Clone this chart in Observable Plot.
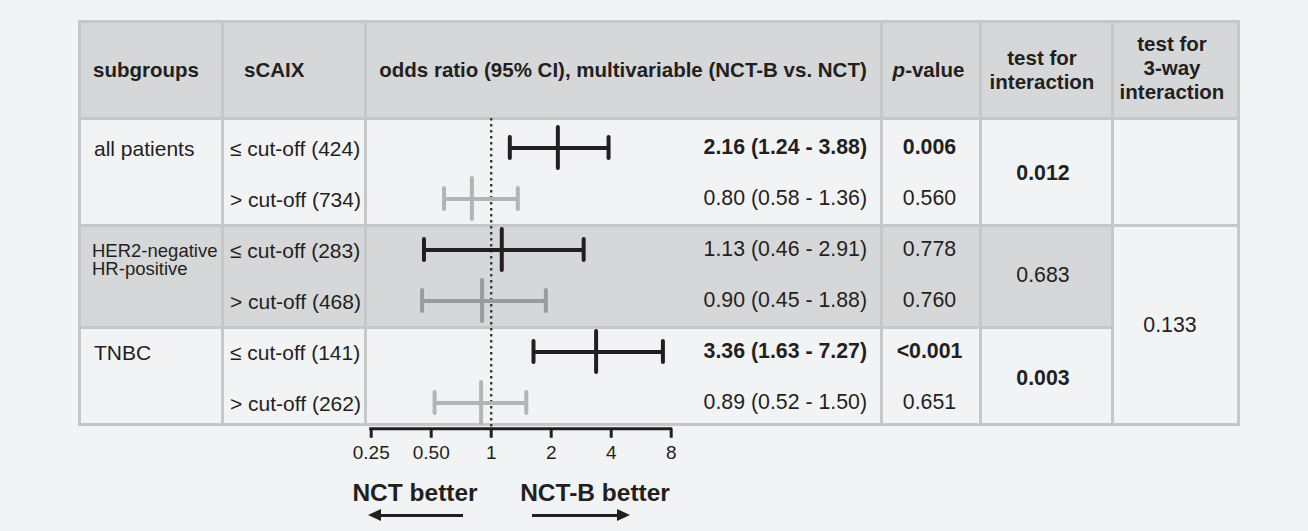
<!DOCTYPE html>
<html>
<head>
<meta charset="utf-8">
<script src="https://cdn.jsdelivr.net/npm/d3@7"></script>
<script src="https://cdn.jsdelivr.net/npm/@observablehq/plot@0.6"></script>
<style>
  html, body { margin: 0; padding: 0; background: #f2f3f5; }
  body { width: 1308px; height: 531px; position: relative; overflow: hidden;
         font-family: "Liberation Sans", Arial, Helvetica, sans-serif; color: #231f20; }
  .cell { position: absolute; box-sizing: border-box; }
  .t { position: absolute; white-space: nowrap; line-height: 1; }
  #plotwrap { position: absolute; }
  #plotwrap svg { background: transparent !important; overflow: visible; max-width: none !important; }
</style>
</head>
<body>
<script>
// ---------------- data ----------------
const subgroupLabels = [["all patients"], ["HER2-negative", "HR-positive"], ["TNBC"]];
const rowLabels = ["\u2264 cut-off (424)", "> cut-off (734)", "\u2264 cut-off (283)", "> cut-off (468)", "\u2264 cut-off (141)", "> cut-off (262)"];
const rowGroup = [0, 0, 1, 1, 2, 2];
const rowIsLow = [true, false, true, false, true, false];
const orEst = [2.16, 0.80, 1.13, 0.90, 3.36, 0.89];
const orLow = [1.24, 0.58, 0.46, 0.45, 1.63, 0.52];
const orHigh = [3.88, 1.36, 2.91, 1.88, 7.27, 1.50];
const pValues = ["0.006", "0.560", "0.778", "0.760", "<0.001", "0.651"];
const pSignificant = [true, false, false, false, true, false];
const interactionP = ["0.012", "0.683", "0.003"];
const interactionSig = [true, false, true];
const threeWayP = "0.133";
const xTicks = [0.25, 0.5, 1, 2, 4, 8];
const xTickLabels = ["0.25", "0.50", "1", "2", "4", "8"];
const favourLabels = ["NCT better", "NCT-B better"];

// ---------------- layout ----------------
const C = { bg: "#f2f3f5", dark: "#d6d7d9", grid: "#c6c7c9", ink: "#231f20", gray: "#b3b4b6", grayDark: "#9a9b9d" };
const colX = [79, 222, 365, 881, 980, 1112, 1238];
const tableTop = 21, headerBottom = 118;
const groupBounds = [118, 225, 327, 424];
const bandTop = 122.15, bandH = 51.1;
const rowCenter = i => bandTop + bandH * (i + 0.5);
const gw = 3; // grid line width

function div(cls, css, html) {
  const d = document.createElement("div");
  d.className = cls;
  Object.assign(d.style, css);
  if (html != null) d.innerHTML = html;
  document.body.appendChild(d);
  return d;
}
function cell(x0, y0, x1, y1, fill) {
  div("cell", { left: (x0 + gw / 2) + "px", top: (y0 + gw / 2) + "px",
    width: (x1 - x0 - gw) + "px", height: (y1 - y0 - gw) + "px", background: fill });
}
function txt(x, y, html, { anchor = "start", size = 21, bold = false } = {}) {
  const tx = anchor === "middle" ? "-50%" : anchor === "end" ? "-100%" : "0";
  div("t", { left: x + "px", top: y + "px", fontSize: size + "px", fontWeight: bold ? "bold" : "normal",
    transform: `translate(${tx}, -50%)` }, html);
}

// grid background (border colour)
div("cell", { left: (colX[0] - gw / 2) + "px", top: (tableTop - gw / 2) + "px",
  width: (colX[6] - colX[0] + gw) + "px", height: (groupBounds[3] - tableTop + gw) + "px", background: C.grid });

// header cells
for (let c = 0; c < 6; c++) cell(colX[c], tableTop, colX[c + 1], headerBottom, C.dark);
// body cells
for (let g = 0; g < 3; g++)
  for (let c = 0; c < 5; c++)
    cell(colX[c], groupBounds[g], colX[c + 1], groupBounds[g + 1], g === 1 ? C.dark : C.bg);
cell(colX[5], groupBounds[0], colX[6], groupBounds[1], C.bg);
cell(colX[5], groupBounds[1], colX[6], groupBounds[3], C.bg);

// header text
const hy = 70, hs = 20.5;
txt(93, hy, "subgroups", { size: hs, bold: true });
txt(244, hy, "sCAIX", { size: hs, bold: true });
txt((colX[2] + colX[3]) / 2, hy, "odds ratio (95% CI), multivariable (NCT-B vs. NCT)", { anchor: "middle", size: hs, bold: true });
txt((colX[3] + colX[4]) / 2 - 2, hy, "<i>p</i>-value", { anchor: "middle", size: hs, bold: true });
div("t", { left: ((colX[4] + colX[5]) / 2 - 4) + "px", top: hy + "px", fontSize: hs + "px", fontWeight: "bold",
  lineHeight: "24px", textAlign: "center", transform: "translate(-50%, -50%)" }, "test for<br>interaction");
div("t", { left: ((colX[5] + colX[6]) / 2 - 3) + "px", top: (hy - 2) + "px", fontSize: hs + "px", fontWeight: "bold",
  lineHeight: "24px", textAlign: "center", transform: "translate(-50%, -50%)" }, "test for<br>3-way<br>interaction");

// subgroup labels
subgroupLabels.forEach((lines, g) => {
  const firstRow = rowGroup.indexOf(g);
  if (lines.length === 1) {
    txt(94, rowCenter(firstRow), lines[0], { size: 21 });
  } else {
    div("t", { left: "92px", top: (rowCenter(firstRow) - 8) + "px", fontSize: "18.5px", lineHeight: "18.5px" },
      lines.join("<br>"));
  }
});

// per-row text
rowLabels.forEach((lab, i) => {
  const y = rowCenter(i);
  txt(230, y, lab, { size: 21 });
  const orText = `${orEst[i].toFixed(2)} (${orLow[i].toFixed(2)} - ${orHigh[i].toFixed(2)})`;
  txt(867, y, orText, { anchor: "end", size: 21.3, bold: pSignificant[i] });
  txt((colX[3] + colX[4]) / 2 - 1, y, pValues[i], { anchor: "middle", size: 21.3, bold: pSignificant[i] });
});
// interaction tests
interactionP.forEach((p, g) => {
  const idx = rowGroup.map((gg, i) => gg === g ? i : -1).filter(i => i >= 0);
  const y = d3.mean(idx, rowCenter) + 1;
  txt((colX[4] + colX[5]) / 2 - 3, y, p, { anchor: "middle", size: 21.3, bold: interactionSig[g] });
});
txt((colX[5] + colX[6]) / 2 - 5, (groupBounds[1] + groupBounds[3]) / 2 + 1, threeWayP, { anchor: "middle", size: 21.3 });

// ---------------- forest plot (Observable Plot) ----------------
const rows = orEst.map((e, i) => ({
  id: i, est: e, lo: orLow[i], hi: orHigh[i],
  color: rowIsLow[i] ? C.ink : (rowGroup[i] === 1 ? C.grayDark : C.gray)
}));
const plotX0 = 366, plotY0 = 118, plotW = 515, plotH = 413;
const xPix0 = 370.7, xPix1 = 670.7;
const frameBottom = bandTop + rows.length * bandH;
const tickLabel = d => {
  const k = xTicks.findIndex(t => Math.abs(Math.log2(t) - Math.log2(+d)) < 1e-6);
  return k >= 0 ? xTickLabels[k] : "";
};

const axisLine = (index, scales, values, dims) => {
  const y = dims.height - dims.marginBottom;
  const g = d3.create("svg:g");
  g.append("line")
    .attr("x1", scales.x(xTicks[0]) - 1.5).attr("x2", scales.x(xTicks[xTicks.length - 1]) + 1.5)
    .attr("y1", y).attr("y2", y).attr("stroke", C.ink).attr("stroke-width", 3);
  return g.node();
};

const capStyle = { stroke: "color", strokeWidth: 4, strokeLinecap: "round" };
const chart = Plot.plot({
  width: plotW, height: plotH,
  marginLeft: xPix0 - plotX0, marginRight: plotX0 + plotW - xPix1,
  marginTop: 0, marginBottom: plotY0 + plotH - frameBottom,
  x: { type: "log", domain: [xTicks[0], xTicks[xTicks.length - 1]] },
  y: { type: "band", domain: rows.map(d => d.id), range: [bandTop - plotY0, frameBottom - plotY0], padding: 0, axis: null },
  color: { type: "identity" },
  style: { background: "transparent", fontFamily: "'Liberation Sans', Arial, sans-serif", color: C.ink, overflow: "visible" },
  marks: [
    Plot.ruleX([1], { stroke: "#3a3a3a", strokeWidth: 2.4, strokeDasharray: "2.4 3.6" }),
    Plot.ruleY(rows, { y: "id", x1: "lo", x2: "hi", stroke: "color", strokeWidth: 4 }),
    Plot.tickX(rows, { y: "id", x: "lo", insetTop: 15, insetBottom: 15, ...capStyle }),
    Plot.tickX(rows, { y: "id", x: "hi", insetTop: 15, insetBottom: 15, ...capStyle }),
    Plot.tickX(rows, { y: "id", x: "est", insetTop: 5, insetBottom: 5, ...capStyle }),
    axisLine,
    Plot.axisX({ anchor: "bottom", ticks: xTicks, tickSize: 9, strokeWidth: 3, stroke: C.ink, text: null, label: null }),
    Plot.text(xTicks, { x: d => d, text: tickLabel, frameAnchor: "bottom", lineAnchor: "top", dy: 16, fontSize: 19, fill: C.ink })
  ]
});
const wrap = div("", { left: plotX0 + "px", top: plotY0 + "px", width: plotW + "px", height: plotH + "px" });
wrap.id = "plotwrap";
wrap.appendChild(chart);

// ---------------- favour labels and arrows ----------------
txt(415, 493, favourLabels[0], { anchor: "middle", size: 24.5, bold: true });
txt(595, 493, favourLabels[1], { anchor: "middle", size: 24.5, bold: true });
function arrow(xTail, xTip, y) {
  const dir = xTip > xTail ? 1 : -1;
  const headLen = 13, headHalf = 6.5;
  const lineEnd = xTip - dir * (headLen - 1);
  div("cell", { left: Math.min(xTail, lineEnd) + "px", top: (y - 1.5) + "px",
    width: Math.abs(lineEnd - xTail) + "px", height: "3px", background: C.ink });
  const tri = div("cell", { left: (dir > 0 ? xTip - headLen : xTip) + "px", top: (y - headHalf) + "px",
    width: "0", height: "0", borderTop: headHalf + "px solid transparent", borderBottom: headHalf + "px solid transparent" });
  if (dir > 0) tri.style.borderLeft = headLen + "px solid " + C.ink;
  else tri.style.borderRight = headLen + "px solid " + C.ink;
}
arrow(463, 368, 515);
arrow(532, 630, 515);
</script>
</body>
</html>
